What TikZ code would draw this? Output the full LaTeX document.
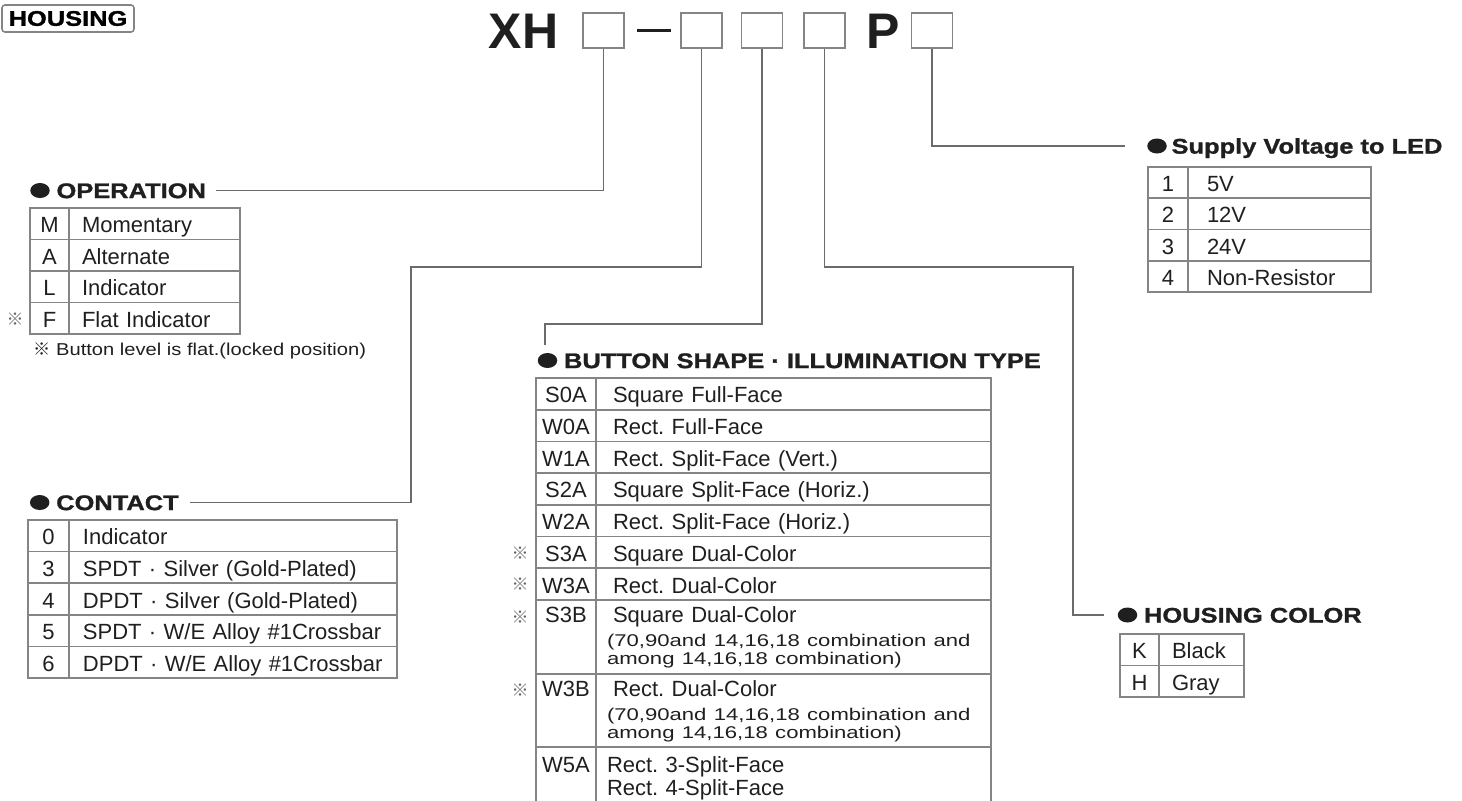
\documentclass[tikz,border=0pt]{standalone}
\usepackage{fontspec}
\setmainfont{Liberation Sans}
\newfontfamily\headfont[FakeStretch=1.2, FakeBold=1.2]{Liberation Sans}
\newfontfamily\widefont[FakeStretch=1.3]{Liberation Sans}
\newfontfamily\notefont[FakeStretch=1.17]{Liberation Sans}
\newfontfamily\markfont{Noto Sans CJK JP}
\usetikzlibrary{positioning, shapes.geometric}
\frenchspacing
\definecolor{rulegray}{gray}{0.52}
\definecolor{wiregray}{gray}{0.42}
\definecolor{inkgray}{gray}{0.12}
\newcommand{\tabsize}{\fontsize{11}{12.5}\selectfont}
\newcommand{\tallsize}{\fontsize{11}{9.2}\selectfont}
\newcommand{\wideline}{\widefont\fontsize{8.5}{9.2}\selectfont}
\newcommand{\refmark}{{\markfont ※}}
\tikzstyle{slot} =
[rectangle, draw=rulegray, line width=0.8pt, minimum width=20.5pt,
minimum height=17.5pt, inner sep=0pt]
\tikzstyle{partno} =
[inner sep=0pt, text height=17.9pt, text depth=0pt,
font=\bfseries\fontsize{25}{25}\selectfont, text=inkgray]
\tikzstyle{dashbar} =
[rectangle, fill=inkgray, minimum width=17pt, minimum height=1.4pt, inner sep=0pt]
\tikzstyle{tag} =
[rectangle, rounded corners=1.5pt, draw=rulegray, line width=0.8pt,
minimum width=66pt, minimum height=13.5pt, inner sep=0pt,
font=\headfont\bfseries\fontsize{10.6}{12}\selectfont]
\tikzstyle{dot} =
[ellipse, fill=inkgray, minimum width=9.75pt, minimum height=7.5pt, inner sep=0pt]
\tikzstyle{heading} =
[inner sep=0pt, anchor=west, text height=7.6pt, text depth=0pt,
font=\headfont\bfseries\fontsize{10.6}{12}\selectfont, text=inkgray]
\tikzstyle{cell} =
[rectangle, draw=rulegray, line width=0.8pt, inner sep=0pt,
text height=9pt, text depth=0pt, font=\tabsize, text=inkgray]
\tikzstyle{opkey} = [cell, minimum width=19.5pt, minimum height=15.75pt, node distance=15.75pt]
\tikzstyle{opval} = [cell, minimum height=15.75pt, text width=72.5pt, inner xsep=6.5pt,
align=left, node distance=52.5pt]
\tikzstyle{cokey} = [cell, minimum width=20.5pt, minimum height=15.8pt, node distance=15.8pt]
\tikzstyle{coval} = [cell, minimum height=15.8pt, text width=150pt, inner xsep=7pt,
align=left, node distance=92.25pt]
\tikzstyle{bskey} = [cell, minimum width=30pt, minimum height=15.85pt, node distance=15.85pt]
\tikzstyle{bsval} = [cell, minimum height=15.85pt, text width=180.5pt, inner xsep=8.5pt,
align=left, node distance=113.75pt]
\tikzstyle{bstall} = [bsval, text width=186.5pt, inner xsep=5.5pt, font=\tallsize]
\tikzstyle{svkey} = [cell, minimum width=20pt, minimum height=15.625pt, node distance=15.625pt]
\tikzstyle{svval} = [cell, minimum height=15.625pt, text width=72.5pt, inner xsep=9.5pt,
align=left, node distance=55.75pt]
\tikzstyle{hckey} = [cell, minimum width=19.5pt, minimum height=15.75pt, node distance=15.75pt]
\tikzstyle{hcval} = [cell, minimum height=15.75pt, text width=29.5pt, inner xsep=6.5pt,
align=left, node distance=31pt]
\tikzstyle{refsign} = [inner sep=0pt, font=\markfont\fontsize{8.5}{8.5}\selectfont, text=black!60]
\tikzstyle{footnote} = [inner sep=0pt, anchor=base west, font=\notefont\fontsize{8.6}{10}\selectfont,
text=inkgray]
\tikzstyle{wire} = [draw=wiregray, line width=0.7pt]

\begin{document}
\begin{tikzpicture}[x=0.5pt, y=-0.5pt]
  \useasboundingbox (0,0) rectangle (1462,800);
  % part number
  \node [tag] (housing) at (68,18.5) {HOUSING};
  \node [slot] (s1) at (603.5,30.5) {};
  \node [partno, left of=s1, node distance=40pt] (xh) {XH};
  \node [dashbar, right of=s1, node distance=25pt] (dash) {};
  \node [slot, right of=dash, node distance=24pt] (s2) {};
  \node [slot, right of=s2, node distance=30.25pt] (s3) {};
  \node [slot, right of=s3, node distance=31.25pt] (s4) {};
  \node [partno, right of=s4, node distance=29.25pt] (p) {P};
  \node [slot, right of=p, node distance=24.5pt] (s5) {};
  %
  % operation
  \node [dot] (op-dot) at (40,190.5) {};
  \node [heading, right=3pt of op-dot] (op-title) {OPERATION};
  \node [opkey] (op-m) at (49.5,223.75) {M};
  \node [opval, right of=op-m] (op-mv) {Momentary};
  \node [opkey, below of=op-m] (op-a) {A};
  \node [opval, right of=op-a] (op-av) {Alternate};
  \node [opkey, below of=op-a] (op-l) {L};
  \node [opval, right of=op-l] (op-lv) {Indicator};
  \node [opkey, below of=op-l] (op-f) {F};
  \node [opval, right of=op-f] (op-fv) {Flat Indicator};
  \node [refsign] (op-fmark) at (15,319) {※};
  \node [footnote] (op-note) at (33,355) {\refmark\ Button level is flat.(locked position)};
  %
  % contact
  \node [dot] (co-dot) at (39.7,502.5) {};
  \node [heading, right=3pt of co-dot] (co-title) {CONTACT};
  \node [cokey] (co-0) at (48.5,535.8) {0};
  \node [coval, right of=co-0] (co-0v) {Indicator};
  \node [cokey, below of=co-0] (co-3) {3};
  \node [coval, right of=co-3] (co-3v) {SPDT · Silver (Gold-Plated)};
  \node [cokey, below of=co-3] (co-4) {4};
  \node [coval, right of=co-4] (co-4v) {DPDT · Silver (Gold-Plated)};
  \node [cokey, below of=co-4] (co-5) {5};
  \node [coval, right of=co-5] (co-5v) {SPDT · W/E Alloy \#1Crossbar};
  \node [cokey, below of=co-5] (co-6) {6};
  \node [coval, right of=co-6] (co-6v) {DPDT · W/E Alloy \#1Crossbar};
  %
  % button shape
  \node [dot] (bs-dot) at (547.5,360.5) {};
  \node [heading, right=3pt of bs-dot] (bs-title) {BUTTON SHAPE · ILLUMINATION TYPE};
  \node [bskey] (bs-s0a) at (566,393.85) {S0A};
  \node [bsval, right of=bs-s0a] (bs-s0av) {Square Full-Face};
  \node [bskey, below of=bs-s0a] (bs-w0a) {W0A};
  \node [bsval, right of=bs-w0a] (bs-w0av) {Rect. Full-Face};
  \node [bskey, below of=bs-w0a] (bs-w1a) {W1A};
  \node [bsval, right of=bs-w1a] (bs-w1av) {Rect. Split-Face (Vert.)};
  \node [bskey, below of=bs-w1a] (bs-s2a) {S2A};
  \node [bsval, right of=bs-s2a] (bs-s2av) {Square Split-Face (Horiz.)};
  \node [bskey, below of=bs-s2a] (bs-w2a) {W2A};
  \node [bsval, right of=bs-w2a] (bs-w2av) {Rect. Split-Face (Horiz.)};
  \node [bskey, below of=bs-w2a] (bs-s3a) {S3A};
  \node [bsval, right of=bs-s3a] (bs-s3av) {Square Dual-Color};
  \node [bskey, below of=bs-s3a] (bs-w3a) {W3A};
  \node [bsval, right of=bs-w3a] (bs-w3av) {Rect. Dual-Color};
  \node [bskey, below of=bs-w3a, node distance=26.425pt, minimum height=37pt,
   text depth=23pt] (bs-s3b) {S3B};
  \node [bstall, right of=bs-s3b, minimum height=37pt, text depth=23pt] (bs-s3bv)
   {\hspace*{3pt}Square Dual-Color\\[2.5pt]{\wideline (70,90and 14,16,18 combination and\\
   among 14,16,18 combination)}};
  \node [bskey, below of=bs-s3b, node distance=36.75pt, minimum height=36.5pt,
   text depth=22.5pt] (bs-w3b) {W3B};
  \node [bstall, right of=bs-w3b, minimum height=36.5pt, text depth=22.5pt] (bs-w3bv)
   {\hspace*{3pt}Rect. Dual-Color\\[2.5pt]{\wideline (70,90and 14,16,18 combination and\\
   among 14,16,18 combination)}};
  \node [bskey, below of=bs-w3b, node distance=35.75pt, minimum height=35pt,
   text depth=18pt] (bs-w5a) {W5A};
  \node [bstall, right of=bs-w5a, minimum height=35pt, text depth=18pt] (bs-w5av)
   {Rect. 3-Split-Face\\Rect. 4-Split-Face};
  \node [refsign] (bs-s3amark) at (520,553) {※};
  \node [refsign] (bs-w3amark) at (520,584) {※};
  \node [refsign] (bs-s3bmark) at (520,617) {※};
  \node [refsign] (bs-w3bmark) at (520,690) {※};
  %
  % supply voltage
  \node [dot] (sv-dot) at (1157,146) {};
  \node [heading, right=2pt of sv-dot] (sv-title) {Supply Voltage to LED};
  \node [svkey] (sv-1) at (1168,182.6) {1};
  \node [svval, right of=sv-1] (sv-1v) {5V};
  \node [svkey, below of=sv-1] (sv-2) {2};
  \node [svval, right of=sv-2] (sv-2v) {12V};
  \node [svkey, below of=sv-2] (sv-3) {3};
  \node [svval, right of=sv-3] (sv-3v) {24V};
  \node [svkey, below of=sv-3] (sv-4) {4};
  \node [svval, right of=sv-4] (sv-4v) {Non-Resistor};
  %
  % housing color
  \node [dot] (hc-dot) at (1127.5,615) {};
  \node [heading, right=3pt of hc-dot] (hc-title) {HOUSING COLOR};
  \node [hckey] (hc-k) at (1139.5,649.75) {K};
  \node [hcval, right of=hc-k] (hc-kv) {Black};
  \node [hckey, below of=hc-k] (hc-h) {H};
  \node [hcval, right of=hc-h] (hc-hv) {Gray};
  %
  % connectors
  \coordinate (co-bend) at (411,267);
  \coordinate (bs-bend) at (545,324);
  \coordinate (hc-bend) at (1073,267);
  \path [wire, shorten >=5pt] (s1.south) |- (op-title.east);
  \path [wire, shorten >=5.5pt] (s2.south) |- (co-bend) |- (co-title.east);
  \path [wire, shorten >=4pt] (s3.south) |- (bs-bend) -- (bs-bend |- bs-dot.north);
  \path [wire, shorten >=6.75pt] (s4.south) |- (hc-bend) |- (hc-dot.west);
  \path [wire, shorten >=11pt] (s5.south) |- (sv-dot.west); %| vline
\end{tikzpicture}
\end{document}
